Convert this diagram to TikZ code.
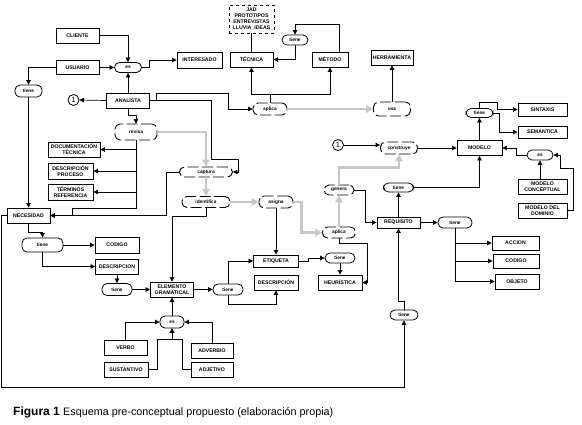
\documentclass[tikz,border=0pt]{standalone}
\usepackage{fontspec}
\setmainfont{Liberation Sans}
\usepackage{tikz}
\usetikzlibrary{arrows.meta,calc}

\begin{document}
\begin{tikzpicture}[x=1pt,y=-1pt,
    box/.style={draw,line width=0.8pt,fill=white,inner sep=0.5pt,align=center,minimum width=43,minimum height=15,font=\fontsize{5.2}{6}\selectfont\bfseries},
    pill/.style={draw,line width=0.8pt,fill=white,rounded corners=5pt,inner sep=0.5pt,minimum width=28,minimum height=11,font=\fontsize{4.8}{5}\selectfont\bfseries},
    dpill/.style={draw,line width=0.9pt,fill=white,rounded corners=5pt,dash pattern=on 11pt off 3.5pt,inner sep=0.5pt,minimum width=34,minimum height=12,font=\fontsize{4.8}{5}\selectfont\bfseries},
    num/.style={draw,circle,line width=0.8pt,inner sep=0pt,minimum size=11,font=\fontsize{7.5}{8}\selectfont},
    arr/.style={-{Triangle[length=4.5pt,width=4.5pt]},line width=0.7pt},
    garr/.style={-{Triangle[length=7pt,width=7.5pt]},line width=2.6pt,black!22},
    ln/.style={line width=0.7pt}]
\useasboundingbox (0,0) rectangle (582,425);
% left column
\node[box] (cliente) at (77.5,35.5) {CLIENTE};
\node[box,minimum height=14] (usuario) at (77.5,67.5) {USUARIO};
\node[pill,minimum width=27,minimum height=10] (es1) at (128,67.5) {es};
\node[box,minimum width=45,minimum height=16] (interesado) at (199.5,60) {INTERESADO};
\node[pill,minimum width=27,minimum height=12] (tiene1) at (28.5,91) {tiene};
\node[num] (uno1) at (73.5,100) {1};
\node[box] (analista) at (128,100.5) {ANALISTA};
\node[dpill,minimum width=42,minimum height=16] (revisa) at (136,132) {revisa};
\node[box,minimum width=52] (doctec) at (74,149.5) {DOCUMENTACIÓN\\TÉCNICA};
\node[box,minimum width=45,minimum height=16] (descproc) at (70.5,171) {DESCRIPCIÓN\\PROCESO};
\node[box,minimum width=45,minimum height=16] (terminos) at (70.5,192) {TÉRMINOS\\REFERENCIA};
\node[box] (necesidad) at (28.5,215.5) {NECESIDAD};
\node[pill,minimum width=41,minimum height=14] (tiene2) at (42.5,245) {tiene};
\node[box,minimum width=44,minimum height=16] (codigo1) at (117,245) {CODIGO};
\node[box] (descripcion1) at (117,266.5) {DESCRIPCION};
\node[pill,minimum width=30,minimum height=12] (tiene3) at (117,289.5) {tiene};
\node[box] (elemento) at (172,289.5) {ELEMENTO\\GRAMATICAL};
\node[pill,minimum width=30,minimum height=11] (tiene4) at (228,289.5) {tiene};
\node[pill,minimum width=24,minimum height=12] (es2) at (172,322) {es};
\node[box] (verbo) at (125.5,347.5) {VERBO};
\node[box,minimum width=44] (sustantivo) at (126,369.5) {SUSTANTIVO};
\node[box,minimum width=42] (adverbio) at (212,350.5) {ADVERBIO};
\node[box,minimum width=42] (adjetivo) at (212,369.5) {ADJETIVO};
% middle
\node[dpill,minimum width=53,minimum height=10] (captura) at (206,172) {captura};
\node[dpill,minimum width=48,minimum height=11] (identifica) at (206,202) {identifica};
\node[dpill,minimum width=34,minimum height=12] (asigna) at (276,202) {asigna};
\node[box,minimum width=45,minimum height=12] (etiqueta) at (276,261) {ETIQUETA};
\node[box,minimum width=44] (descripcion2) at (276,282.5) {DESCRIPCIÓN};
\node[pill,minimum width=30,minimum height=10] (tiene5) at (340,258) {tiene};
\node[box,minimum width=44] (heuristica) at (340,282.5) {HEURÍSTICA};
\node[dpill,minimum width=33,minimum height=11] (aplica2) at (339,232.5) {aplica};
\node[dpill,minimum width=30,minimum height=10] (genera) at (339,190) {genera};
% top
\node[box,dashed,minimum width=45,minimum height=28] (tecnicas) at (251.5,19) {JAD\\PROTOTIPOS\\ENTREVISTAS\\LLUVIA\_IDEAS};
\node[box] (tecnica) at (251.5,59.5) {TÉCNICA};
\node[box,minimum width=36] (metodo) at (330,59.5) {MÉTODO};
\node[pill,minimum width=26,minimum height=10] (tiene10) at (295,40) {tiene};
\node[dpill,minimum width=34,minimum height=12] (aplica1) at (270,109) {aplica};
\node[dpill,minimum width=37,minimum height=14] (usa) at (392,109) {usa};
\node[box,minimum width=42] (herramienta) at (392,57.5) {HERRAMIENTA};
% right
\node[num] (uno2) at (338,145) {1};
\node[dpill,minimum width=37,minimum height=12] (construye) at (399,148) {construye};
\node[box,minimum width=45] (modelo) at (479.5,148) {MODELO};
\node[pill,minimum width=27,minimum height=9] (tiene6) at (479.5,113) {tiene};
\node[box,minimum width=49,minimum height=13] (sintaxis) at (542.5,109.5) {SINTAXIS};
\node[box,minimum width=49,minimum height=12] (semantica) at (542.5,132) {SEMANTICA};
\node[pill,minimum width=26,minimum height=10] (es3) at (540,155) {es};
\node[box,minimum width=49] (modeloconc) at (542.5,186.5) {MODELO\\CONCEPTUAL};
\node[box,minimum width=49] (modelodom) at (542.5,210.5) {MODELO DEL\\DOMINIO};
\node[pill,minimum width=30,minimum height=9] (tiene7) at (398.5,187.5) {tiene};
\node[box,minimum width=43,minimum height=11] (requisito) at (398.5,222.5) {REQUISITO};
\node[pill,minimum width=34,minimum height=11] (tiene8) at (455,222.5) {tiene};
\node[box,minimum width=47,minimum height=14] (accion) at (515.5,243) {ACCION};
\node[box,minimum width=46,minimum height=14] (codigo2) at (516,261) {CODIGO};
\node[box,minimum width=44] (objeto) at (517,281.5) {OBJETO};
\node[pill,minimum width=28,minimum height=10] (tiene9) at (404,315) {tiene};
\node[anchor=base west,inner sep=0pt] (caption) at (13,415) {\fontsize{12}{13}\selectfont\bfseries Figura 1 \fontsize{10.8}{12}\selectfont\mdseries Esquema pre-conceptual propuesto (elaboración propia)};
% grey flow
\draw[garr] (revisa.east) -| (captura.north);
\draw[garr] (captura.south) -- (identifica.north);
\draw[garr] (identifica.east) -- (asigna.west);
\draw[garr] (asigna.east) -- ++(8,0) |- (aplica2.west);
\draw[garr] (aplica2.north) -- (genera.south);
\draw[garr] (genera.north) -- ++(0,-17) -| (construye.south);
\draw[garr] (aplica1.east) -- (usa.west);
% connectors
\draw[arr] (cliente.east) -| (es1.north);
\draw[arr] (usuario.east) -- (es1.west);
\draw[arr] (es1.east) -- ++(7,0) |- (interesado.west);
\draw[arr] (usuario.west) -| (tiene1.north);
\draw[arr] (tiene1.south) -- (necesidad.north);
\draw[arr] (analista.west) -- (uno1.east);
\draw[arr] (analista.north) -- (es1.south);
\draw[arr] (analista.south) -- ++(0,7) -| (revisa.north);
\draw[arr] (analista.east) -- ++(6,0) -- ++(0,-7) -- ++(72,0) |- (aplica1.west);
\draw[arr] (analista.east) -- ++(61,0) -- ++(0,58.5) -- ++(27,0) |- (captura.east);
\draw[arr] (revisa.south) |- (doctec.east);
\draw[arr] (revisa.south) |- (descproc.east);
\draw[arr] (revisa.south) |- (terminos.east);
\draw[arr] (revisa.south) -- ++(0,68) -- ++(-64,0) |- (necesidad.east);
\draw[arr] (captura.west) -- ++(-13,0) |- (necesidad.east);
\draw[arr] (identifica.south) -- ++(0,8.5) -| (elemento.north);
\draw[arr] (asigna.south) -- (etiqueta.north);
\draw[arr] (etiqueta.east) -- ++(9,0) |- (tiene5.west);
\draw[arr] (tiene5.south) -- (heuristica.north);
\draw[arr] (aplica2.south) -- ++(0,5) -- ++(28,0) |- (heuristica.east);
\draw[arr] (genera.east) -- ++(11,0) |- (requisito.west);
\draw[arr] (uno2.east) -- (uno2.east -| construye.west);
\draw[arr] (construye.east) -- (modelo.west);
\draw[arr] (modelo.north) -- (tiene6.south);
\draw[arr] (tiene6.north) -- ++(0,-6) -- ++(18,0) |- (sintaxis.west);
\draw[arr] (tiene6.east) -- ++(6,0) |- (semantica.west);
\draw[arr] (es3.west) -- ++(-10,0) |- (modelo.east);
\draw[arr] (es3.south |- modeloconc.north) -- (es3.south);
\draw[arr] (modelodom.east) -- ++(6,0) -- ++(0,-42.5) -- ++(-13,0) |- (es3.east);
\draw[arr] (requisito.north) -- (tiene7.south);
\draw[arr] (tiene7.east) -| (modelo.south);
\draw[arr] (requisito.east) -- (tiene8.west);
\draw[arr] (tiene8.south) |- (accion.west);
\draw[arr] (tiene8.south) |- (codigo2.west);
\draw[arr] (tiene8.south) |- (objeto.west);
\draw[arr] (tiene9.north) -- ++(0,-8) -| (requisito.south);
\draw[arr] (necesidad.west) -- ++(-5.5,0) -- ++(0,171.5) -| (tiene9.south);
\draw[arr] (necesidad.south) -- ++(0,9) -| (tiene2.north);
\draw[arr] (tiene2.east) -- (codigo1.west);
\draw[arr] (tiene2.south) |- (descripcion1.west);
\draw[arr] (descripcion1.south) -- (tiene3.north);
\draw[arr] (tiene3.east) -- (elemento.west);
\draw[arr] (elemento.east) -- (tiene4.west);
\draw[arr] (tiene4.north) |- (etiqueta.west);
\draw[arr] (tiene4.south) -- ++(0,9) -| (descripcion2.south);
\draw[arr] (es2.north) -- (elemento.south);
\draw[arr] (verbo.north) |- (es2.west);
\draw[arr] (adverbio.north) |- (es2.east);
\draw[arr] (sustantivo.east) -- ++(9,0) -- ++(0,-30.5) -| (es2.south);
\draw[arr] (adjetivo.west) -- ++(-8,0) -- ++(0,-30.5) -| (es2.south);
\draw[arr] ([xshift=9pt]metodo.north) -- ++(0,-27) -| (tiene10.north);
\draw[arr] (tiene10.south) |- (tecnica.east);
\draw[ln] (tecnicas.south) -- (tecnica.north);
\draw[arr] (aplica1.north) -- ++(0,-8) -| (tecnica.south);
\draw[arr] (aplica1.north) -- ++(0,-8) -| (metodo.south);
\draw[arr] (usa.north) -- (herramienta.south);
\end{tikzpicture}
\end{document}
